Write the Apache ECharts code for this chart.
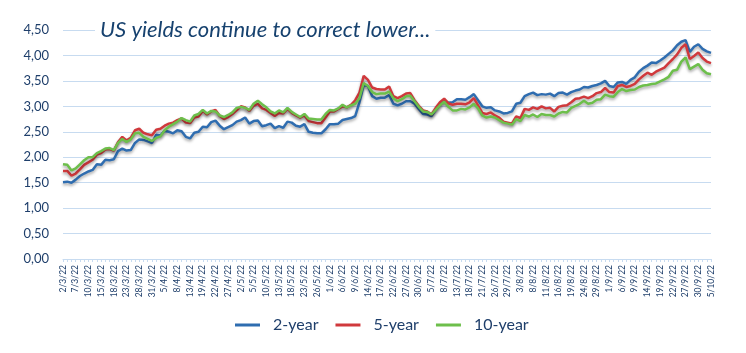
<!DOCTYPE html>
<html>
<head>
<meta charset="utf-8">
<script src="https://cdn.jsdelivr.net/npm/echarts@6/dist/echarts.min.js"></script>
<style>
  html, body { margin: 0; padding: 0; background: #fff; }
  #chart { width: 746px; height: 353px; }
</style>
</head>
<body>
<div id="chart"></div>
<script>
// trading days 2/3/22 .. 5/10/22 (weekdays, two US holidays left out as in the source)
const skipDays = ["15/4/22", "30/5/22"];
const categories = [];
for (let d = new Date(2022, 2, 2); d <= new Date(2022, 9, 5); d.setDate(d.getDate() + 1)) {
    const wd = d.getDay();
    if (wd === 0 || wd === 6) continue;
    const lbl = d.getDate() + "/" + (d.getMonth() + 1) + "/22";
    if (skipDays.indexOf(lbl) >= 0) continue;
    categories.push(lbl);
}

const yTicks = [0, 0.5, 1, 1.5, 2, 2.5, 3, 3.5, 4, 4.5];

const twoYear = [
    1.51, 1.52, 1.50, 1.56, 1.63, 1.68, 1.72, 1.75, 1.86, 1.85,
    1.95, 1.94, 1.96, 2.12, 2.17, 2.13, 2.14, 2.28, 2.35, 2.34,
    2.31, 2.28, 2.44, 2.43, 2.52, 2.50, 2.47, 2.53, 2.51, 2.40,
    2.37, 2.48, 2.50, 2.60, 2.59, 2.69, 2.72, 2.62, 2.55, 2.59,
    2.63, 2.70, 2.73, 2.78, 2.66, 2.71, 2.72, 2.61, 2.63, 2.66,
    2.57, 2.61, 2.58, 2.70, 2.68, 2.62, 2.60, 2.65, 2.50, 2.48,
    2.47, 2.47, 2.55, 2.65, 2.65, 2.66, 2.73, 2.75, 2.77, 2.81,
    3.08, 3.42, 3.40, 3.20, 3.15, 3.17, 3.17, 3.22, 3.05, 3.02,
    3.05, 3.10, 3.10, 3.05, 2.95, 2.85, 2.84, 2.81, 2.93, 3.03,
    3.12, 3.07, 3.08, 3.14, 3.14, 3.13, 3.18, 3.24, 3.12, 3.00,
    2.97, 2.98, 2.92, 2.90, 2.86, 2.87, 2.90, 3.05, 3.07, 3.20,
    3.24, 3.27, 3.22, 3.24, 3.23, 3.25, 3.20, 3.26, 3.27, 3.23,
    3.28, 3.31, 3.33, 3.38, 3.37, 3.40, 3.42, 3.45, 3.50, 3.40,
    3.38, 3.47, 3.48, 3.44, 3.52, 3.57, 3.68, 3.75, 3.80, 3.86,
    3.85, 3.90, 3.96, 4.03, 4.10, 4.20, 4.27, 4.30, 4.07, 4.17,
    4.22, 4.13, 4.08, 4.05
];

const fiveYear = [
    1.73, 1.73, 1.64, 1.68, 1.76, 1.85, 1.90, 1.95, 2.05, 2.08,
    2.15, 2.16, 2.13, 2.30, 2.40, 2.33, 2.38, 2.53, 2.56, 2.48,
    2.45, 2.43, 2.54, 2.56, 2.62, 2.66, 2.68, 2.73, 2.76, 2.68,
    2.67, 2.78, 2.80, 2.91, 2.84, 2.90, 2.93, 2.81, 2.75, 2.79,
    2.85, 2.92, 3.00, 2.98, 2.91, 3.01, 3.05, 2.96, 2.93, 2.87,
    2.81, 2.87, 2.86, 2.95, 2.87, 2.82, 2.78, 2.82, 2.71, 2.69,
    2.67, 2.67, 2.78, 2.90, 2.90, 2.95, 3.00, 2.98, 3.03, 3.12,
    3.27, 3.60, 3.52, 3.37, 3.34, 3.33, 3.33, 3.39, 3.20, 3.16,
    3.20, 3.25, 3.26, 3.12, 3.01, 2.92, 2.90, 2.84, 2.97, 3.08,
    3.15, 3.06, 3.03, 3.05, 3.05, 3.04, 3.08, 3.16, 3.02, 2.87,
    2.85, 2.88, 2.82, 2.78, 2.70, 2.68, 2.66, 2.80, 2.77, 2.95,
    2.93, 2.98, 2.95, 3.00, 2.96, 2.97, 2.90, 2.99, 3.01, 3.02,
    3.08, 3.15, 3.16, 3.19, 3.16, 3.20, 3.26, 3.28, 3.36, 3.28,
    3.27, 3.40, 3.42, 3.38, 3.40, 3.44, 3.53, 3.60, 3.66, 3.62,
    3.68, 3.72, 3.76, 3.85, 3.93, 4.02, 4.15, 4.22, 3.93, 3.99,
    4.06, 3.95, 3.88, 3.85
];

const tenYear = [
    1.86, 1.85, 1.74, 1.78, 1.86, 1.94, 2.00, 2.00, 2.08, 2.12,
    2.17, 2.18, 2.14, 2.28, 2.36, 2.30, 2.35, 2.47, 2.48, 2.40,
    2.36, 2.32, 2.38, 2.41, 2.53, 2.60, 2.65, 2.70, 2.77, 2.73,
    2.70, 2.82, 2.85, 2.93, 2.86, 2.91, 2.90, 2.82, 2.79, 2.83,
    2.88, 2.97, 2.99, 2.97, 2.93, 3.05, 3.11, 3.04, 2.98, 2.90,
    2.86, 2.92, 2.88, 2.97, 2.89, 2.84, 2.79, 2.85, 2.76, 2.75,
    2.74, 2.74, 2.85, 2.93, 2.92, 2.96, 3.03, 2.98, 3.02, 3.05,
    3.16, 3.46, 3.40, 3.28, 3.24, 3.25, 3.25, 3.29, 3.16, 3.10,
    3.14, 3.20, 3.21, 3.10, 2.99, 2.90, 2.89, 2.84, 2.93, 3.02,
    3.09, 2.99, 2.92, 2.92, 2.95, 2.94, 2.98, 3.05, 2.96, 2.82,
    2.78, 2.80, 2.78, 2.73, 2.68, 2.66, 2.64, 2.75, 2.71, 2.83,
    2.80, 2.84, 2.79, 2.85, 2.83, 2.83, 2.80, 2.86, 2.89, 2.88,
    2.97, 3.01, 3.05, 3.11, 3.05, 3.07, 3.13, 3.14, 3.23, 3.20,
    3.19, 3.28, 3.34, 3.30, 3.32, 3.33, 3.38, 3.41, 3.42, 3.44,
    3.45, 3.49, 3.53, 3.58, 3.70, 3.72, 3.88, 3.96, 3.73, 3.78,
    3.83, 3.72, 3.65, 3.63
];

const seriesNames = ["2-year", "5-year", "10-year"];
const seriesColors = ["#2f6db0", "#d0393c", "#6dbf4b"];
const seriesData = [twoYear, fiveYear, tenYear];

const navy = "#1f3f6b";
const gridBlue = "#c7dbf0";

const chart = echarts.init(document.getElementById("chart"));

const option = {
    backgroundColor: "#fff",
    animation: false,
    textStyle: { fontFamily: "Lato" },
    title: {
        text: "US yields continue to correct lower...",
        left: 95,
        top: 17,
        padding: [2, 5],
        backgroundColor: "#fff",
        textStyle: {
            color: "#17426f",
            fontSize: 22,
            fontStyle: "italic",
            fontWeight: "normal",
            fontFamily: "Lato"
        }
    },
    legend: {
        data: seriesNames,
        left: 230,
        top: 312,
        icon: "rect",
        itemWidth: 25,
        itemHeight: 3,
        itemGap: 17,
        textStyle: {
            color: navy,
            fontSize: 16,
            fontFamily: "Lato",
            padding: [0, 0, 0, 8]
        }
    },
    grid: {
        left: 63,
        right: 35,
        top: 30,
        bottom: 94,
        containLabel: false
    },
    xAxis: {
        type: "category",
        data: categories,
        boundaryGap: false,
        axisLine: { lineStyle: { color: gridBlue, width: 1 } },
        axisTick: { show: true, interval: 0, length: 3, lineStyle: { color: gridBlue } },
        axisLabel: {
            interval: 2,
            rotate: 90,
            color: navy,
            fontSize: 8.5,
            fontFamily: "Lato",
            margin: 6,
            hideOverlap: false
        },
        splitLine: { show: false }
    },
    yAxis: {
        type: "value",
        min: yTicks[0],
        max: yTicks[yTicks.length - 1],
        interval: 0.5,
        axisLine: { show: false },
        axisTick: { show: false },
        axisLabel: {
            color: navy,
            fontSize: 13,
            fontFamily: "Lato",
            margin: 14,
            formatter: function (v) {
                return v.toFixed(2).replace(".", ",");
            }
        },
        splitLine: { lineStyle: { color: gridBlue, width: 1 } }
    },
    series: seriesNames.map(function (name, k) {
        return {
            name: name,
            type: "line",
            data: seriesData[k],
            showSymbol: false,
            symbol: "none",
            smooth: false,
            color: seriesColors[k],
            lineStyle: {
                color: seriesColors[k],
                width: 2.5,
                shadowColor: "rgba(0,0,0,0.35)",
                shadowBlur: 3,
                shadowOffsetY: 2
            },
            z: 2 + k
        };
    })
};

chart.setOption(option);
</script>
</body>
</html>
